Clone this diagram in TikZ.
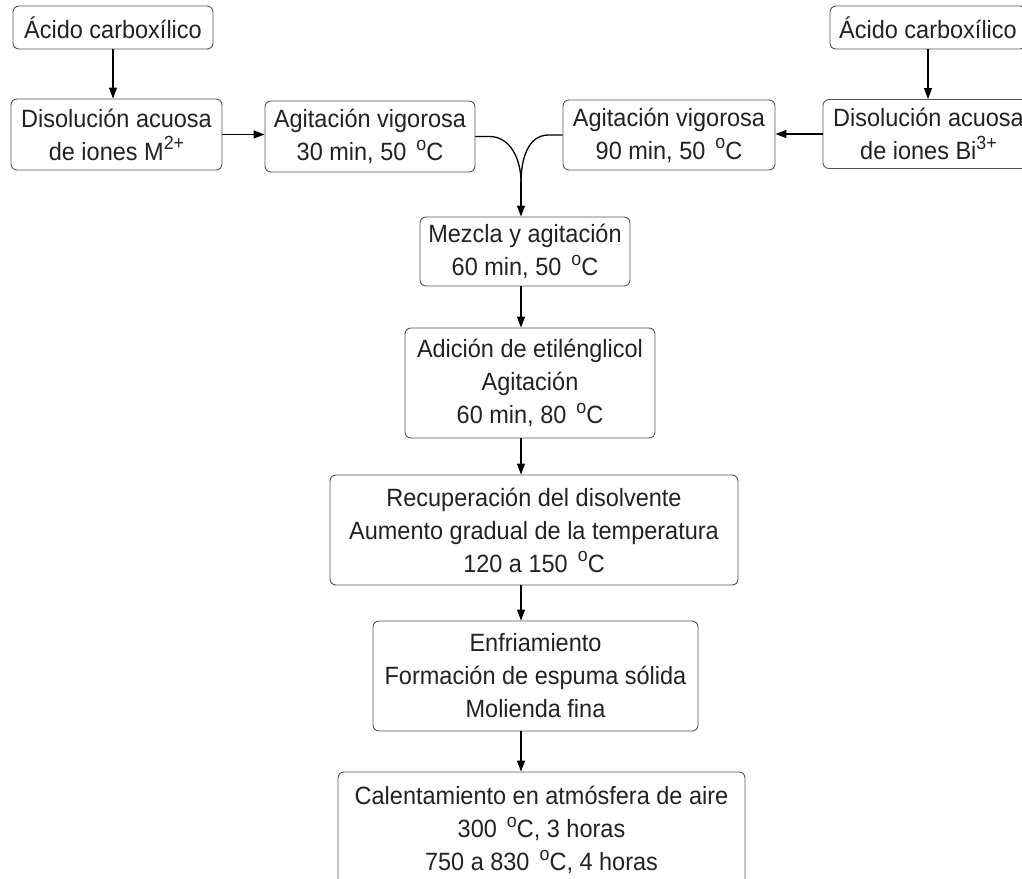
\documentclass[tikz,border=0pt]{standalone}
\usepackage{fontspec}
\setmainfont{Liberation Sans}[FakeStretch=0.94]
\usetikzlibrary{arrows.meta,positioning}
\newcommand{\arriba}[1]{\raisebox{0.42em}{\fontsize{19}{19}\selectfont #1}}
\newcommand{\gradC}{\hspace{0.4em}\arriba{o}C}
\definecolor{borde}{HTML}{555555}
\definecolor{texto}{HTML}{222222}

\tikzset{
  paso/.style={draw=borde, rounded corners=6pt, align=center, inner sep=2pt,
    line width=0.9pt, text=texto},
  flecha/.style={-{Triangle[length=11pt,width=8pt]}, line width=1.3pt},
}

\begin{document}
\begin{tikzpicture}[x=1pt,y=-1pt,font=\fontsize{25}{33}\selectfont]
  \useasboundingbox (0,0) rectangle (1022,878);
  % rama izquierda
  \node[paso,minimum width=200pt,minimum height=43pt] (acido1) at (113,27.5) {Ácido carboxílico};
  \node[paso,minimum width=211pt,minimum height=71pt] (disol1) at (116.5,134.5)
    {Disolución acuosa\\de iones M\arriba{2+}};
  \node[paso,minimum width=210pt,minimum height=71pt] (agit1) at (370,136.5)
    {Agitación vigorosa\\30 min, 50\gradC};
  % rama derecha
  \node[paso,minimum width=196pt,minimum height=43pt] (acido2) at (928,27.5) {Ácido carboxílico};
  \node[paso,minimum width=211pt,minimum height=69pt] (disol2) at (928.5,134)
    {Disolución acuosa\\de iones Bi\arriba{3+}};
  \node[paso,minimum width=212pt,minimum height=70pt] (agit2) at (669,135)
    {Agitación vigorosa\\90 min, 50\gradC};
  % columna central
  \node[paso,minimum width=210pt,minimum height=69pt] (mezcla) at (525,251.5)
    {Mezcla y agitación\\60 min, 50\gradC};
  \node[paso,minimum width=250pt,minimum height=110pt] (adicion) at (530,383)
    {Adición de etilénglicol\\Agitación\\60 min, 80\gradC};
  \node[paso,minimum width=408pt,minimum height=110pt] (recup) at (534,530)
    {Recuperación del disolvente\\Aumento gradual de la temperatura\\120 a 150\gradC};
  \node[paso,minimum width=325pt,minimum height=110pt] (enfria) at (535.5,676)
    {Enfriamiento\\Formación de espuma sólida\\Molienda fina};
  \node[paso,minimum width=407pt,minimum height=116pt] (calent) at (541.5,830)
    {Calentamiento en atmósfera de aire\\300\gradC, 3 horas\\750 a 830\gradC, 4 horas};

  \coordinate (eje) at (521,0);
  \coordinate (union) at (521,182);

  \draw[flecha] (acido1.south) -- (acido1.south |- disol1.north);
  \draw[flecha] (acido2.south) -- (acido2.south |- disol2.north);
  \draw[flecha] (disol1.east) -- (disol1.east -| agit1.west);
  \draw[flecha] (disol2.west) -- (disol2.west -| agit2.east);
  \draw[line width=1.3pt] (agit1.east) -- ++(14,0) to[out=0,in=90] (union);
  \draw[line width=1.3pt] (agit2.west) -- ++(-14,0) to[out=180,in=90] (union);
  \draw[flecha] (union) -- (eje |- mezcla.north);
  \draw[flecha] (eje |- mezcla.south) -- (eje |- adicion.north);
  \draw[flecha] (eje |- adicion.south) -- (eje |- recup.north);
  \draw[flecha] (eje |- recup.south) -- (eje |- enfria.north);
  \draw[flecha] (eje |- enfria.south) -- (eje |- calent.north);
\end{tikzpicture}
\end{document}
